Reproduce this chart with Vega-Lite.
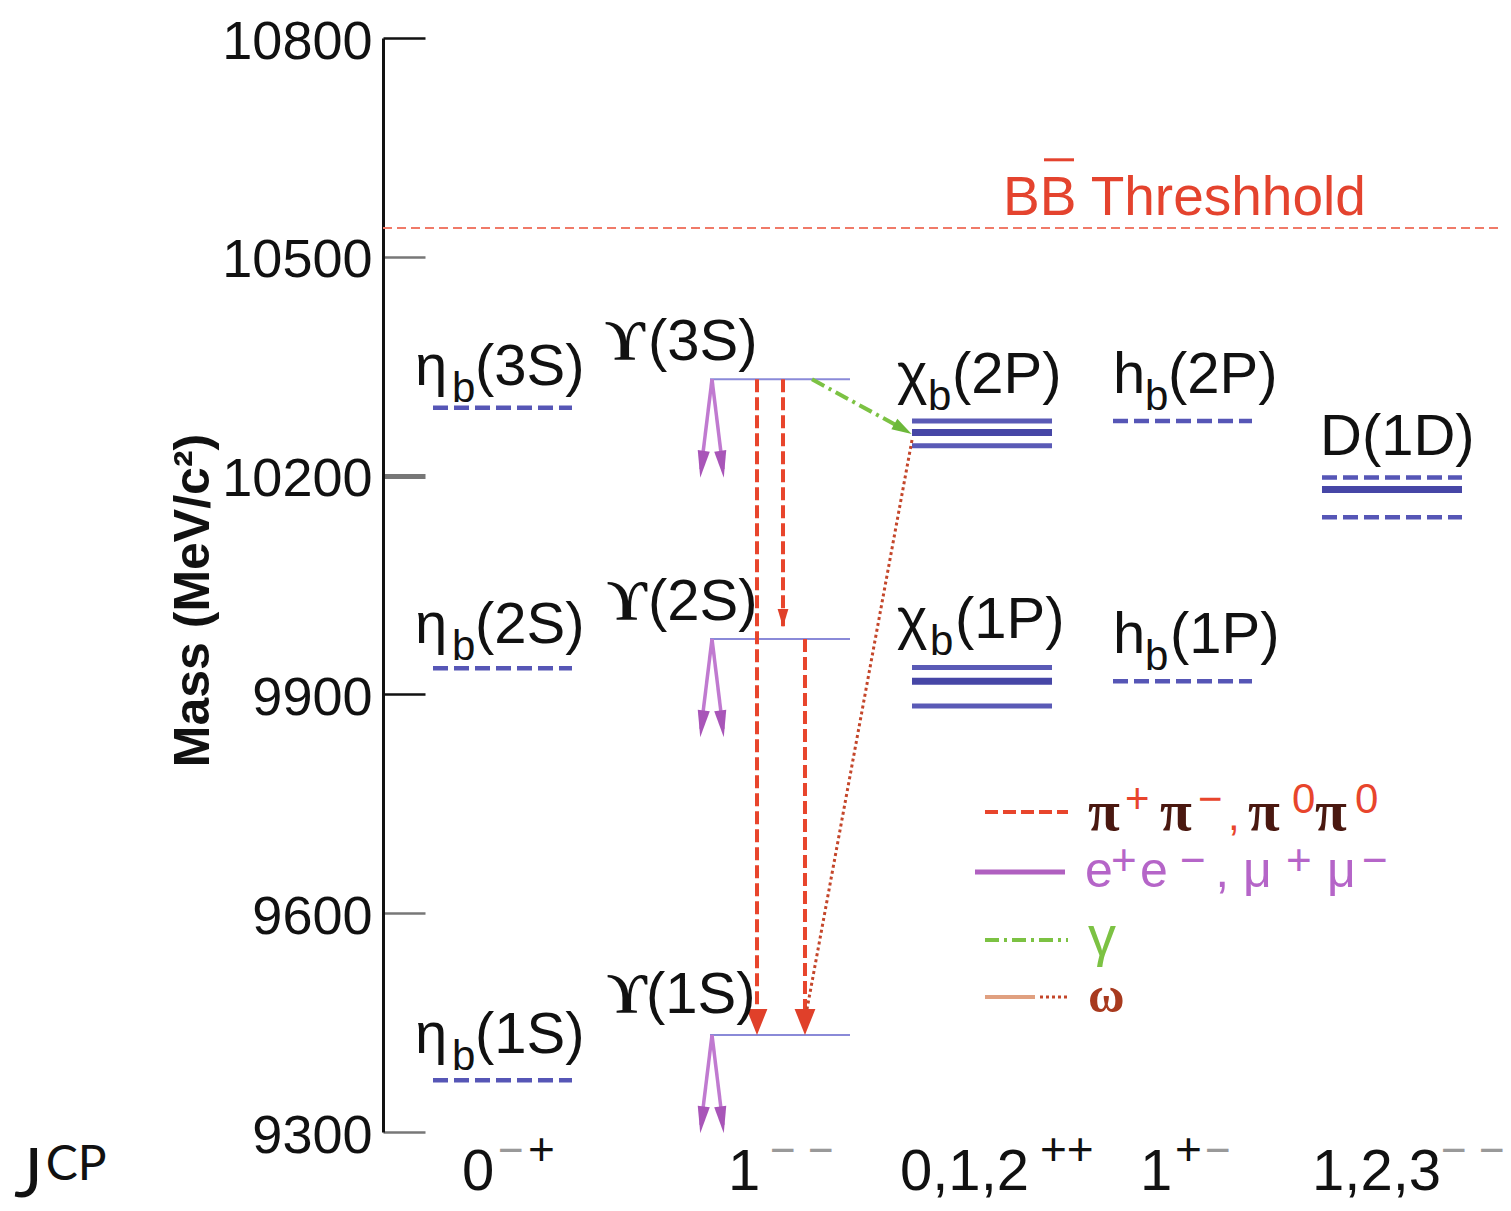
{
  "$schema": "https://vega.github.io/schema/vega-lite/v6.json",
  "width": 1117,
  "height": 1094,
  "autosize": {"type": "none"},
  "padding": {"left": 383, "top": 38, "right": 11, "bottom": 79},
  "background": "white",
  "config": {"font": "'Liberation Sans', sans-serif", "view": {"stroke": null}},
  "datasets": {
    "levels": [
      {"x": 0.4476, "x2": 1.692, "y": 10293, "k": "dash"},
      {"x": 0.4476, "x2": 1.692, "y": 9936, "k": "dash"},
      {"x": 0.4476, "x2": 1.692, "y": 9371, "k": "dash"},
      {"x": 6.5354, "x2": 7.7798, "y": 10275, "k": "dash"},
      {"x": 6.5354, "x2": 7.7798, "y": 9918, "k": "dash"},
      {"x": 8.4064, "x2": 9.6598, "y": 10197.5, "k": "dash"},
      {"x": 8.4064, "x2": 9.6598, "y": 10143, "k": "dash"},
      {"x": 2.9275, "x2": 4.1808, "y": 10332, "k": "thin"},
      {"x": 2.9275, "x2": 4.1808, "y": 9976, "k": "thin"},
      {"x": 2.9275, "x2": 4.1808, "y": 9433, "k": "thin"},
      {"x": 4.7359, "x2": 5.9893, "y": 10275, "k": "bold"},
      {"x": 4.7359, "x2": 5.9893, "y": 10241, "k": "bold"},
      {"x": 4.7359, "x2": 5.9893, "y": 9937, "k": "bold"},
      {"x": 4.7359, "x2": 5.9893, "y": 9884, "k": "bold"},
      {"x": 4.7359, "x2": 5.9893, "y": 10259, "k": "bolder"},
      {"x": 4.7359, "x2": 5.9893, "y": 9918, "k": "bolder"},
      {"x": 8.4064, "x2": 9.6598, "y": 10181, "k": "bolder"},
      {"x": 0, "x2": 10, "y": 10539.5, "k": "thresh"},
      {"x": 5.9177, "x2": 6.1862, "y": 10633, "k": "over"}
    ],
    "trans": [
      {"x": 3.3483, "y": 10332, "x2": 3.3483, "y2": 9462, "k": "pi"},
      {"x": 3.581, "y": 10332, "x2": 3.581, "y2": 9990, "k": "pi"},
      {"x": 3.7779, "y": 9976, "x2": 3.7779, "y2": 9462, "k": "pi"},
      {"x": 5.3894, "y": 9738.7, "x2": 6.1325, "y2": 9738.7, "k": "pi"},
      {"x": 2.9454, "y": 10332, "x2": 2.8469, "y2": 10208.6, "k": "ee"},
      {"x": 2.9454, "y": 10332, "x2": 3.0439, "y2": 10208.6, "k": "ee"},
      {"x": 2.9454, "y": 9976, "x2": 2.8469, "y2": 9852.6, "k": "ee"},
      {"x": 2.9454, "y": 9976, "x2": 3.0439, "y2": 9852.6, "k": "ee"},
      {"x": 2.9454, "y": 9433, "x2": 2.8469, "y2": 9309.6, "k": "ee"},
      {"x": 2.9454, "y": 9433, "x2": 3.0439, "y2": 9309.6, "k": "ee"},
      {"x": 5.2999, "y": 9656.5, "x2": 6.1057, "y2": 9656.5, "k": "eeLeg"},
      {"x": 4.7359, "y": 10248.8, "x2": 3.7779, "y2": 9453.6, "k": "om"},
      {"x": 5.8818, "y": 9485.1, "x2": 6.1325, "y2": 9485.1, "k": "om"},
      {"x": 5.3894, "y": 9485.1, "x2": 5.8371, "y2": 9485.1, "k": "omL"},
      {"x": 3.8406, "y": 10332, "x2": 4.6732, "y2": 10262.5, "k": "gam"},
      {"x": 5.3894, "y": 9563.3, "x2": 6.1325, "y2": 9563.3, "k": "gam"}
    ],
    "heads": [
      {"x": 3.3483, "y": 9450.8, "k": "pi"},
      {"x": 3.7779, "y": 9450.8, "k": "pi"},
      {"x": 3.581, "y": 10004.7, "k": "piS"},
      {"x": 2.8559, "y": 10215.5, "k": "eeL"},
      {"x": 2.8559, "y": 9859.5, "k": "eeL"},
      {"x": 2.8559, "y": 9316.5, "k": "eeL"},
      {"x": 3.0349, "y": 10215.5, "k": "eeR"},
      {"x": 3.0349, "y": 9859.5, "k": "eeR"},
      {"x": 3.0349, "y": 9316.5, "k": "eeR"},
      {"x": 4.6553, "y": 10263.9, "k": "gam"}
    ],
    "txt": [
      {"x": 0.2865, "y": 10324.2, "t": "η", "k": "m"},
      {"x": 0.6177, "y": 10300.9, "t": "b", "k": "s"},
      {"x": 0.8236, "y": 10324.2, "t": "(3S)", "k": "m"},
      {"x": 0.2865, "y": 9970.5, "t": "η", "k": "m"},
      {"x": 0.6177, "y": 9947.2, "t": "b", "k": "s"},
      {"x": 0.8236, "y": 9970.5, "t": "(2S)", "k": "m"},
      {"x": 0.2865, "y": 9408.3, "t": "η", "k": "m"},
      {"x": 0.6177, "y": 9385, "t": "b", "k": "s"},
      {"x": 0.8236, "y": 9408.3, "t": "(1S)", "k": "m"},
      {"x": 1.9875, "y": 10358.5, "t": "ϒ", "k": "u"},
      {"x": 2.3724, "y": 10358.5, "t": "(3S)", "k": "m"},
      {"x": 2.0054, "y": 10002, "t": "ϒ", "k": "u"},
      {"x": 2.3724, "y": 10002, "t": "(2S)", "k": "m"},
      {"x": 2.0054, "y": 9463.1, "t": "ϒ", "k": "u"},
      {"x": 2.3545, "y": 9463.1, "t": "(1S)", "k": "m"},
      {"x": 4.6016, "y": 10313.2, "t": "χ", "k": "m"},
      {"x": 4.8791, "y": 10290, "t": "b", "k": "s"},
      {"x": 5.094, "y": 10313.2, "t": "(2P)", "k": "m"},
      {"x": 6.5354, "y": 10313.2, "t": "h", "k": "m"},
      {"x": 6.8219, "y": 10290, "t": "b", "k": "s"},
      {"x": 7.0278, "y": 10313.2, "t": "(2P)", "k": "m"},
      {"x": 8.3885, "y": 10228.2, "t": "D(1D)", "k": "m"},
      {"x": 4.6016, "y": 9977.3, "t": "χ", "k": "m"},
      {"x": 4.897, "y": 9954, "t": "b", "k": "s"},
      {"x": 5.1209, "y": 9977.3, "t": "(1P)", "k": "m"},
      {"x": 6.5354, "y": 9956.8, "t": "h", "k": "m"},
      {"x": 6.8219, "y": 9933.4, "t": "b", "k": "s"},
      {"x": 7.0457, "y": 9956.8, "t": "(1P)", "k": "m"},
      {"x": 0.7073, "y": 9220.5, "t": "0", "k": "c"},
      {"x": 3.0877, "y": 9220.5, "t": "1", "k": "c"},
      {"x": 4.6285, "y": 9220.5, "t": "0,1,2", "k": "c"},
      {"x": 6.777, "y": 9220.5, "t": "1", "k": "c"},
      {"x": 8.317, "y": 9220.5, "t": "1,2,3", "k": "c"},
      {"x": 1.2981, "y": 9254.7, "t": "+", "k": "cp"},
      {"x": 5.8818, "y": 9254.7, "t": "++", "k": "cp"},
      {"x": 7.0904, "y": 9254.7, "t": "+", "k": "cp"},
      {"x": 1.0295, "y": 9254.7, "t": "−", "k": "cm"},
      {"x": 3.4654, "y": 9254.7, "t": "− −", "k": "cm"},
      {"x": 7.359, "y": 9254.7, "t": "−", "k": "cm"},
      {"x": 9.4718, "y": 9254.7, "t": "− −", "k": "cm"},
      {"x": 6.3116, "y": 9714, "t": "π", "k": "lp"},
      {"x": 6.9561, "y": 9714, "t": "π", "k": "lp"},
      {"x": 7.744, "y": 9714, "t": "π", "k": "lp"},
      {"x": 8.3438, "y": 9714, "t": "π", "k": "lp"},
      {"x": 6.6428, "y": 9737, "t": "+", "k": "lps"},
      {"x": 7.2963, "y": 9737, "t": "−", "k": "lps"},
      {"x": 7.5649, "y": 9714, "t": ",", "k": "lps"},
      {"x": 8.1379, "y": 9737, "t": "0", "k": "lps"},
      {"x": 8.7019, "y": 9737, "t": "0", "k": "lps"},
      {"x": 6.2847, "y": 9636, "t": "e", "k": "le"},
      {"x": 6.7771, "y": 9636, "t": "e", "k": "le"},
      {"x": 7.4512, "y": 9636, "t": ",", "k": "le"},
      {"x": 7.6992, "y": 9636, "t": "μ", "k": "le"},
      {"x": 8.4512, "y": 9636, "t": "μ", "k": "le"},
      {"x": 6.5175, "y": 9652, "t": "+", "k": "les"},
      {"x": 7.1352, "y": 9652, "t": "−", "k": "les"},
      {"x": 8.0842, "y": 9652, "t": "+", "k": "les"},
      {"x": 8.7645, "y": 9652, "t": "−", "k": "les"},
      {"x": 6.3116, "y": 9543, "t": "γ", "k": "lg"},
      {"x": 6.3116, "y": 9464.5, "t": "ω", "k": "lo"},
      {"x": -3.303, "y": 9210.9, "t": "J", "k": "j"},
      {"x": -3.02, "y": 9234.2, "t": "CP", "k": "jc"},
      {"x": 5.5506, "y": 10557.3, "t": "BB Threshhold", "k": "thr"}
    ]
  },
  "encoding": {
    "x": {"field": "x", "type": "quantitative", "scale": {"domain": [0, 10], "nice": false, "zero": false}, "axis": null},
    "y": {
      "field": "y", "type": "quantitative",
      "scale": {"domain": [9300, 10800], "nice": false, "zero": false},
      "axis": {
        "title": "Mass (MeV/c²)",
        "values": [9300, 9600, 9900, 10200, 10500, 10800],
        "format": "d",
        "grid": false,
        "tickSize": -42,
        "tickColor": {"condition": {"test": "datum.value == 10800 || datum.value == 9900", "value": "#111111"}, "value": "#777777"},
        "tickWidth": {"condition": {"test": "datum.value == 10200", "value": 5}, "value": 2.5},
        "domainColor": "#111111",
        "domainWidth": 3,
        "labelFont": "'Liberation Sans', sans-serif",
        "labelFontSize": 54,
        "labelColor": "#111111",
        "labelPadding": 53,
        "labelOffset": 4,
        "labelLimit": 400,
        "labelFlush": false,
        "labelOverlap": false,
        "titleFont": "'Liberation Sans', sans-serif",
        "titleFontWeight": "bold",
        "titleFontSize": 50,
        "titleColor": "#111111",
        "titleAngle": 270,
        "titleX": -190,
        "titleY": 562,
        "titleAlign": "center",
        "titleBaseline": "middle"
      }
    }
  },
  "layer": [
    {"data": {"name": "levels"}, "transform": [{"filter": "datum.k == 'thresh'"}],
     "mark": {"type": "rule", "color": "#f07a68", "strokeWidth": 2, "strokeDash": [9, 5]},
     "encoding": {"x2": {"field": "x2"}}},
    {"data": {"name": "levels"}, "transform": [{"filter": "datum.k == 'over'"}],
     "mark": {"type": "rule", "color": "#e4432e", "strokeWidth": 3},
     "encoding": {"x2": {"field": "x2"}}},
    {"data": {"name": "levels"}, "transform": [{"filter": "datum.k == 'dash'"}],
     "mark": {"type": "rule", "color": "#5656b6", "strokeWidth": 4.5, "strokeDash": [15, 6]},
     "encoding": {"x2": {"field": "x2"}}},
    {"data": {"name": "levels"}, "transform": [{"filter": "datum.k == 'thin'"}],
     "mark": {"type": "rule", "color": "#8a8ad8", "strokeWidth": 2},
     "encoding": {"x2": {"field": "x2"}}},
    {"data": {"name": "levels"}, "transform": [{"filter": "datum.k == 'bold'"}],
     "mark": {"type": "rule", "color": "#5a5ab6", "strokeWidth": 5},
     "encoding": {"x2": {"field": "x2"}}},
    {"data": {"name": "levels"}, "transform": [{"filter": "datum.k == 'bolder'"}],
     "mark": {"type": "rule", "color": "#4646a6", "strokeWidth": 7},
     "encoding": {"x2": {"field": "x2"}}},
    {"data": {"name": "trans"}, "transform": [{"filter": "datum.k == 'ee'"}],
     "mark": {"type": "rule", "color": "#c07ad0", "strokeWidth": 3.5},
     "encoding": {"x2": {"field": "x2"}, "y2": {"field": "y2"}}},
    {"data": {"name": "trans"}, "transform": [{"filter": "datum.k == 'eeLeg'"}],
     "mark": {"type": "rule", "color": "#b060c0", "strokeWidth": 5},
     "encoding": {"x2": {"field": "x2"}, "y2": {"field": "y2"}}},
    {"data": {"name": "trans"}, "transform": [{"filter": "datum.k == 'pi'"}],
     "mark": {"type": "rule", "color": "#e8452c", "strokeWidth": 4, "strokeDash": [13, 5]},
     "encoding": {"x2": {"field": "x2"}, "y2": {"field": "y2"}}},
    {"data": {"name": "trans"}, "transform": [{"filter": "datum.k == 'om'"}],
     "mark": {"type": "rule", "color": "#c4462a", "strokeWidth": 3, "strokeDash": [3, 3]},
     "encoding": {"x2": {"field": "x2"}, "y2": {"field": "y2"}}},
    {"data": {"name": "trans"}, "transform": [{"filter": "datum.k == 'omL'"}],
     "mark": {"type": "rule", "color": "#e0a080", "strokeWidth": 4},
     "encoding": {"x2": {"field": "x2"}, "y2": {"field": "y2"}}},
    {"data": {"name": "trans"}, "transform": [{"filter": "datum.k == 'gam'"}],
     "mark": {"type": "rule", "color": "#7cc243", "strokeWidth": 4, "strokeDash": [14, 5, 3, 5]},
     "encoding": {"x2": {"field": "x2"}, "y2": {"field": "y2"}}},
    {"data": {"name": "heads"}, "transform": [{"filter": "datum.k == 'pi'"}],
     "mark": {"type": "point", "shape": "M-0.8,-1L0.8,-1L0,1Z", "size": 676, "filled": true, "opacity": 1, "color": "#e0402a"}},
    {"data": {"name": "heads"}, "transform": [{"filter": "datum.k == 'piS'"}],
     "mark": {"type": "point", "shape": "M-0.6,-1L0.6,-1L0,1Z", "size": 324, "filled": true, "opacity": 1, "color": "#e0402a"}},
    {"data": {"name": "heads"}, "transform": [{"filter": "datum.k == 'eeL'"}],
     "mark": {"type": "point", "shape": "M-0.45,-1L0.45,-1L0,1Z", "size": 729, "angle": 7.5, "filled": true, "opacity": 1, "color": "#a855b8"}},
    {"data": {"name": "heads"}, "transform": [{"filter": "datum.k == 'eeR'"}],
     "mark": {"type": "point", "shape": "M-0.45,-1L0.45,-1L0,1Z", "size": 729, "angle": 352.5, "filled": true, "opacity": 1, "color": "#a855b8"}},
    {"data": {"name": "heads"}, "transform": [{"filter": "datum.k == 'gam'"}],
     "mark": {"type": "point", "shape": "M-0.6,-1L0.6,-1L0,1Z", "size": 400, "angle": 300, "filled": true, "opacity": 1, "color": "#6cb83a"}},
    {"data": {"name": "txt"}, "transform": [{"filter": "datum.k == 'm'"}],
     "mark": {"type": "text", "align": "left", "baseline": "alphabetic", "fontSize": 58, "color": "#111111"},
     "encoding": {"text": {"field": "t"}}},
    {"data": {"name": "txt"}, "transform": [{"filter": "datum.k == 's'"}],
     "mark": {"type": "text", "align": "left", "baseline": "alphabetic", "fontSize": 42, "color": "#111111"},
     "encoding": {"text": {"field": "t"}}},
    {"data": {"name": "txt"}, "transform": [{"filter": "datum.k == 'u'"}],
     "mark": {"type": "text", "align": "left", "baseline": "alphabetic", "fontSize": 56, "font": "'Liberation Serif', 'DejaVu Serif', serif", "fontWeight": "bold", "color": "#111111"},
     "encoding": {"text": {"field": "t"}}},
    {"data": {"name": "txt"}, "transform": [{"filter": "datum.k == 'c'"}],
     "mark": {"type": "text", "align": "left", "baseline": "alphabetic", "fontSize": 58, "color": "#111111"},
     "encoding": {"text": {"field": "t"}}},
    {"data": {"name": "txt"}, "transform": [{"filter": "datum.k == 'cp'"}],
     "mark": {"type": "text", "align": "left", "baseline": "alphabetic", "fontSize": 46, "color": "#111111"},
     "encoding": {"text": {"field": "t"}}},
    {"data": {"name": "txt"}, "transform": [{"filter": "datum.k == 'cm'"}],
     "mark": {"type": "text", "align": "left", "baseline": "alphabetic", "fontSize": 44, "color": "#999999"},
     "encoding": {"text": {"field": "t"}}},
    {"data": {"name": "txt"}, "transform": [{"filter": "datum.k == 'lp'"}],
     "mark": {"type": "text", "align": "left", "baseline": "alphabetic", "fontSize": 58, "font": "'Liberation Serif', serif", "fontWeight": "bold", "color": "#4a1810"},
     "encoding": {"text": {"field": "t"}}},
    {"data": {"name": "txt"}, "transform": [{"filter": "datum.k == 'lps'"}],
     "mark": {"type": "text", "align": "left", "baseline": "alphabetic", "fontSize": 42, "color": "#e8452c"},
     "encoding": {"text": {"field": "t"}}},
    {"data": {"name": "txt"}, "transform": [{"filter": "datum.k == 'le'"}],
     "mark": {"type": "text", "align": "left", "baseline": "alphabetic", "fontSize": 50, "color": "#b565c8"},
     "encoding": {"text": {"field": "t"}}},
    {"data": {"name": "txt"}, "transform": [{"filter": "datum.k == 'les'"}],
     "mark": {"type": "text", "align": "left", "baseline": "alphabetic", "fontSize": 44, "color": "#b565c8"},
     "encoding": {"text": {"field": "t"}}},
    {"data": {"name": "txt"}, "transform": [{"filter": "datum.k == 'lg'"}],
     "mark": {"type": "text", "align": "left", "baseline": "alphabetic", "fontSize": 56, "color": "#7cc243"},
     "encoding": {"text": {"field": "t"}}},
    {"data": {"name": "txt"}, "transform": [{"filter": "datum.k == 'lo'"}],
     "mark": {"type": "text", "align": "left", "baseline": "alphabetic", "fontSize": 50, "font": "'Liberation Serif', serif", "fontWeight": "bold", "color": "#a83a1e"},
     "encoding": {"text": {"field": "t"}}},
    {"data": {"name": "txt"}, "transform": [{"filter": "datum.k == 'thr'"}],
     "mark": {"type": "text", "align": "left", "baseline": "alphabetic", "fontSize": 55, "color": "#e4432e"},
     "encoding": {"text": {"field": "t"}}},
    {"data": {"name": "txt"}, "transform": [{"filter": "datum.k == 'j'"}],
     "mark": {"type": "text", "align": "left", "baseline": "alphabetic", "fontSize": 68, "font": "Lato, sans-serif", "color": "#111111"},
     "encoding": {"text": {"field": "t"}}},
    {"data": {"name": "txt"}, "transform": [{"filter": "datum.k == 'jc'"}],
     "mark": {"type": "text", "align": "left", "baseline": "alphabetic", "fontSize": 48, "font": "Lato, sans-serif", "color": "#111111"},
     "encoding": {"text": {"field": "t"}}}
  ]
}
